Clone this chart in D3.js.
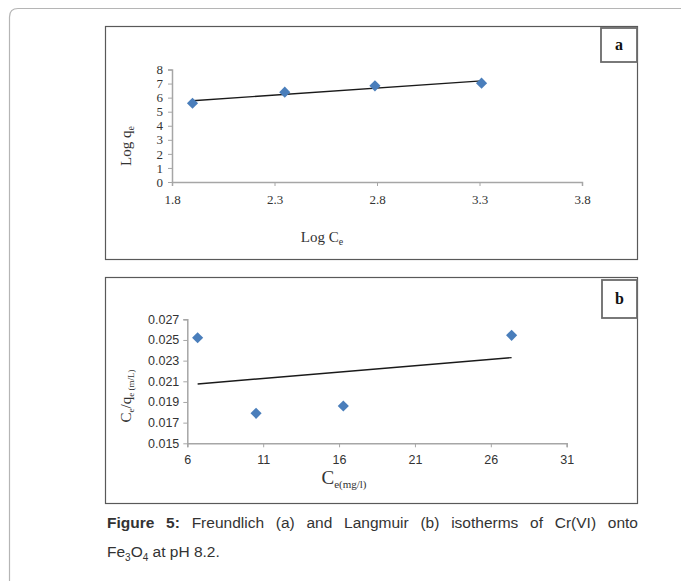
<!DOCTYPE html>
<html>
<head>
<meta charset="utf-8">
<script src="https://cdn.jsdelivr.net/npm/d3@7"></script>
<style>
  html, body { margin: 0; padding: 0; background: #fff; }
  svg { display: block; }
</style>
</head>
<body>
<svg id="chart" width="681" height="581"></svg>
<script>
// ---- Data ----
// Panel a: Freundlich
const freundlichLogCe = [1.90, 2.35, 2.79, 3.31];
const freundlichLogQe = [5.60, 6.39, 6.84, 7.03];
const freundlichXTicks = [1.8, 2.3, 2.8, 3.3, 3.8];
const freundlichYTicks = [0, 1, 2, 3, 4, 5, 6, 7, 8];
// Panel b: Langmuir
const langmuirCe = [6.68, 10.53, 16.28, 27.37];
const langmuirCeQe = [0.02522, 0.0179, 0.01861, 0.02545];
const langmuirXTicks = [6, 11, 16, 21, 26, 31];
const langmuirYTicks = [0.015, 0.017, 0.019, 0.021, 0.023, 0.025, 0.027];

const svg = d3.select("#chart");
const SERIF = "'Liberation Serif', 'Times New Roman', serif";
const SANS = "'Liberation Sans', Arial, sans-serif";
const markerColor = "#4a7ebb";
const axisColor = "#a6a6a6";

// least-squares trendline
function fit(xs, ys) {
  const n = xs.length;
  const mx = d3.mean(xs), my = d3.mean(ys);
  let sxy = 0, sxx = 0;
  for (let i = 0; i < n; i++) { sxy += (xs[i]-mx)*(ys[i]-my); sxx += (xs[i]-mx)**2; }
  const b = sxy / sxx, a = my - b*mx;
  const x0 = d3.min(xs), x1 = d3.max(xs);
  return [[x0, a + b*x0], [x1, a + b*x1]];
}

// ---- Outer card ----
svg.append("path")
  .attr("d", "M9.5,600 L9.5,17 Q9.5,8.5 18,8.5 L700,8.5")
  .attr("fill", "none").attr("stroke", "#b5b5b5").attr("stroke-width", 1.2);

function panel(opts) {
  const g = svg.append("g");
  g.append("rect").attr("x", opts.box[0]+0.5).attr("y", opts.box[1]+0.5)
    .attr("width", opts.box[2]).attr("height", opts.box[3])
    .attr("fill", "#fff").attr("stroke", "#595959").attr("stroke-width", 1.2);
  // label box
  g.append("rect").attr("x", opts.lbox[0]).attr("y", opts.lbox[1])
    .attr("width", opts.lbox[2]).attr("height", opts.lbox[3])
    .attr("fill", "#fff").attr("stroke", "#6b6b6b").attr("stroke-width", 1.8);
  g.append("text").attr("x", opts.lbox[0] + opts.lbox[2]/2).attr("y", opts.lbox[1] + opts.lbox[3]/2 + 5)
    .attr("text-anchor", "middle").attr("font-family", SERIF).attr("font-weight", "bold")
    .attr("font-size", 16).attr("fill", "#111").text(opts.label);

  const x = d3.scaleLinear().domain(opts.xDomain).range(opts.xRange);
  const y = d3.scaleLinear().domain(opts.yDomain).range(opts.yRange);

  const xAxis = g.append("g").attr("transform", `translate(0,${opts.yRange[0]})`)
    .call(d3.axisBottom(x).tickValues(opts.xTicks).tickSize(4).tickPadding(opts.xPad).tickFormat(opts.xFmt));
  const yAxis = g.append("g").attr("transform", `translate(${opts.xRange[0]},0)`)
    .call(d3.axisLeft(y).tickValues(opts.yTicks).tickSize(4).tickPadding(opts.yPad).tickFormat(opts.yFmt));
  [xAxis, yAxis].forEach(a => {
    a.select(".domain").attr("stroke", axisColor).attr("stroke-width", 1.5);
    a.selectAll(".tick line").attr("stroke", axisColor);
    a.selectAll(".tick text").attr("font-family", opts.tickFont).attr("font-size", opts.tickSize).attr("fill", "#333");
  });
  yAxis.select(".domain").attr("d", `M-4,${opts.yRange[1]+0.5}H0.5V${opts.yRange[0]+0.5}`);
  xAxis.select(".domain").attr("d", `M${opts.xRange[0]+0.5},4V0.5H${opts.xRange[1]+0.5}V4`);

  // trendline
  const tl = fit(opts.xs, opts.ys);
  g.append("line")
    .attr("x1", x(tl[0][0])).attr("y1", y(tl[0][1]))
    .attr("x2", x(tl[1][0])).attr("y2", y(tl[1][1]))
    .attr("stroke", "#1a1a1a").attr("stroke-width", 1.4);

  // markers (diamonds)
  g.selectAll("path.pt").data(opts.xs.map((v, i) => [v, opts.ys[i]])).join("path")
    .attr("class", "pt")
    .attr("transform", d => `translate(${x(d[0])},${y(d[1])}) rotate(45)`)
    .attr("d", d3.symbol().type(d3.symbolSquare).size(62))
    .attr("fill", markerColor);
  return g;
}

// ---- Panel a ----
const ga = panel({
  box: [105, 26, 532, 233], lbox: [601, 28, 36, 34], label: "a",
  xDomain: [1.8, 3.8], xRange: [172, 582], yDomain: [0, 8], yRange: [182, 69.5],
  xTicks: freundlichXTicks, yTicks: freundlichYTicks,
  xFmt: d3.format(".1f"), yFmt: d3.format("d"),
  xPad: 9, yPad: 5, tickFont: SERIF, tickSize: 13,
  xs: freundlichLogCe, ys: freundlichLogQe
});
// y label a
const yla = ga.append("text").attr("transform", "translate(131,146) rotate(-90)")
  .attr("text-anchor", "middle").attr("font-family", SERIF).attr("font-size", 15).attr("fill", "#333");
yla.append("tspan").text("Log q");
yla.append("tspan").attr("font-size", 10).attr("dy", 3).text("e");
// x label a
const xla = ga.append("text").attr("x", 322).attr("y", 242)
  .attr("text-anchor", "middle").attr("font-family", SERIF).attr("font-size", 15).attr("fill", "#333");
xla.append("tspan").text("Log C");
xla.append("tspan").attr("font-size", 10).attr("dy", 3).text("e");

// ---- Panel b ----
const gb = panel({
  box: [105, 277, 532, 226], lbox: [602, 280, 35, 38], label: "b",
  xDomain: [6, 31], xRange: [187.3, 566.7], yDomain: [0.015, 0.027], yRange: [443.3, 319.3],
  xTicks: langmuirXTicks, yTicks: langmuirYTicks,
  xFmt: d3.format("d"), yFmt: d3.format(".3f"),
  xPad: 8, yPad: 4, tickFont: SANS, tickSize: 12.5,
  xs: langmuirCe, ys: langmuirCeQe
});
const ylb = gb.append("text").attr("transform", "translate(131,396) rotate(-90)")
  .attr("text-anchor", "middle").attr("font-family", SERIF).attr("font-size", 15).attr("fill", "#333");
ylb.append("tspan").text("C");
ylb.append("tspan").attr("font-size", 9).attr("dy", 3).text("e");
ylb.append("tspan").attr("dy", -3).text("/q");
ylb.append("tspan").attr("font-size", 9).attr("dy", 3).text("e (m/L)");
const xlb = gb.append("text").attr("x", 344).attr("y", 484)
  .attr("text-anchor", "middle").attr("font-family", SERIF).attr("font-size", 19).attr("fill", "#333");
xlb.append("tspan").text("C");
xlb.append("tspan").attr("font-size", 11).attr("dy", 4).text("e(mg/l)");

// ---- Caption ----
const cap1 = svg.append("text").attr("x", 107).attr("y", 528)
  .attr("font-family", SANS).attr("font-size", 15.5).attr("fill", "#333");
cap1.append("tspan").attr("font-weight", "bold").text("Figure 5:");
cap1.append("tspan").text(" Freundlich (a) and Langmuir (b) isotherms of Cr(VI) onto");
// justify line 1 to the right edge
const w = cap1.node().getComputedTextLength();
const spaces = 10;
cap1.attr("word-spacing", Math.max(0, (638 - 107 - w) / spaces));

const cap2 = svg.append("text").attr("x", 107).attr("y", 557)
  .attr("font-family", SANS).attr("font-size", 15.5).attr("fill", "#333");
cap2.append("tspan").text("Fe");
cap2.append("tspan").attr("font-size", 10).attr("dy", 4).text("3");
cap2.append("tspan").attr("dy", -4).text("O");
cap2.append("tspan").attr("font-size", 10).attr("dy", 4).text("4");
cap2.append("tspan").attr("dy", -4).text(" at pH 8.2.");
</script>
</body>
</html>
